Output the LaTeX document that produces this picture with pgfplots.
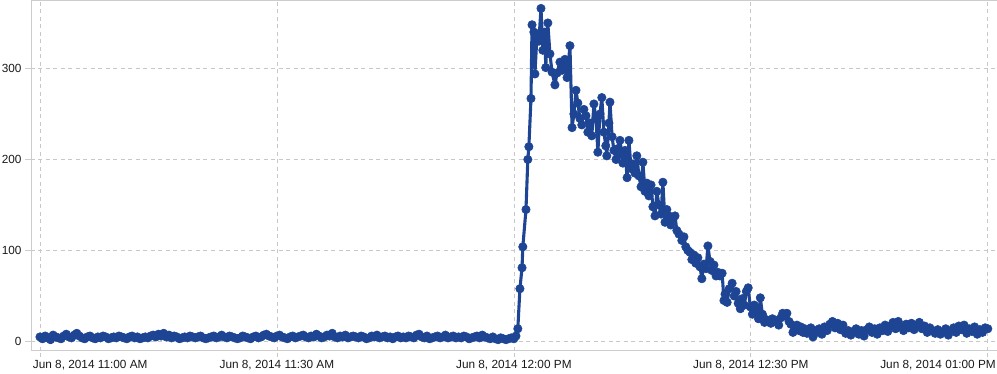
\documentclass[border=0pt]{standalone}
\usepackage{fontspec}
\setmainfont{Liberation Sans}
\usepackage{pgfplots}
\pgfplotsset{compat=1.18}
\definecolor{chartblue}{RGB}{29,69,148}
\definecolor{gridgray}{RGB}{200,200,200}
\definecolor{axisgray}{RGB}{205,205,205}
\begin{document}
\begin{tikzpicture}
\begin{axis}[
  scale only axis, width=966pt, height=350pt,
  xmin=-3.4, xmax=363.5, ymin=-9.9, ymax=374.7,
  axis x line*=bottom, axis y line*=left,
  axis line style={-, axisgray, line width=0.9pt},
  xtick={0,90,180,270,360},
  xticklabels={{\makebox[0pt][l]{\hspace*{-7pt}Jun 8, 2014 11:00 AM}},{Jun 8, 2014 11:30 AM},{Jun 8, 2014 12:00 PM},{Jun 8, 2014 12:30 PM},{\makebox[0pt][r]{Jun 8, 2014 01:00 PM\hspace*{-8pt}}}},
  ytick={0,100,200,300},
  grid=major,
  major grid style={gridgray, dash pattern=on 4pt off 3.5pt, line width=0.7pt},
  tick align=outside,
  x tick style={gridgray, dash pattern=on 4pt off 3.5pt, line width=0.7pt},
  y tick style={axisgray, line width=0.8pt},
  major tick length=6pt,
  tick label style={font=\fontsize{11.8}{14}\selectfont, text=black!90},
  /pgf/number format/assume math mode=true,
]
\coordinate (SW) at (rel axis cs:0,0);
\coordinate (NE) at (rel axis cs:1,1);
\draw[axisgray, line width=0.9pt] (rel axis cs:0,1) -- (rel axis cs:1,1);
\addplot[color=chartblue, line width=3.1pt, line join=round, line cap=round, mark=*, mark size=4.2pt, mark options={solid, fill=chartblue, draw=chartblue, line width=0.6pt}] coordinates {
(0,5)(1,3)(2,6)(3,4)(4,2)(5,7)(6,5)(7,4)(8,3)(9,6)(10,8)(11,5)(12,4)(13,7)(14,9)(15,6)(16,4)(17,3)(18,5)(19,6)
(20,4)(21,3)(22,5)(23,4)(24,6)(25,5)(26,3)(27,4)(28,5)(29,4)(30,6)(31,5)(32,4)(33,3)(34,5)(35,6)(36,4)(37,5)(38,3)(39,4)
(40,5)(41,4)(42,6)(43,7)(44,5)(45,8)(46,6)(47,9)(48,5)(49,7)(50,4)(51,6)(52,5)(53,3)(54,4)(55,5)(56,4)(57,6)(58,5)(59,4)
(60,5)(61,6)(62,4)(63,3)(64,4)(65,5)(66,6)(67,4)(68,5)(69,7)(70,5)(71,4)(72,6)(73,5)(74,4)(75,3)(76,4)(77,6)(78,5)(79,4)
(80,3)(81,5)(82,6)(83,4)(84,5)(85,7)(86,8)(87,6)(88,5)(89,4)(90,6)(91,7)(92,5)(93,4)(94,3)(95,5)(96,6)(97,4)(98,5)(99,6)
(100,7)(101,5)(102,4)(103,6)(104,5)(105,8)(106,6)(107,4)(108,5)(109,7)(110,6)(111,9)(112,5)(113,4)(114,6)(115,5)(116,7)(117,4)(118,5)(119,6)
(120,5)(121,4)(122,6)(123,5)(124,3)(125,4)(126,6)(127,5)(128,7)(129,4)(130,5)(131,6)(132,4)(133,5)(134,3)(135,5)(136,6)(137,4)(138,5)(139,4)
(140,6)(141,5)(142,4)(143,7)(144,8)(145,5)(146,4)(147,6)(148,3)(149,4)(150,5)(151,6)(152,4)(153,5)(154,7)(155,4)(156,5)(157,6)(158,4)(159,5)
(160,4)(161,6)(162,5)(163,3)(164,4)(165,5)(166,6)(167,4)(168,7)(169,5)(170,4)(171,3)(172,5)(173,3)(174,2)(175,4)(176,3)(177,2)(178,3)(179,4)
(180,3)(180.8,6)(181.5,14)(182.3,58)(183.1,81)(183.4,104)(184.6,145)(185.3,200)(185.7,214)(186.5,267)(186.9,348)(187.6,340)(188.0,294)(188.8,338)(189.5,330)(190.3,366)(191.0,320)(191.8,340)(192.1,301)(192.9,350)(193.7,316)(194.5,296)(195.6,282)(196.4,295)(197.5,307)(198.3,298)(199.4,310)(200.2,290)(201.3,325)(202.1,235)
(202.8,250)(203.6,276)(204.3,262)(205.1,245)(205.8,238)(206.6,255)(207.4,248)(208.1,230)(208.9,240)(209.6,226)(210.4,261)(211.2,245)(211.9,208)(212.7,250)(213.4,268)(214.2,230)(214.9,215)(215.3,204)(216.1,240)(216.5,263)(217.3,225)(218.0,210)(218.8,200)(219.5,212)(220.3,221)(221.1,205)(221.4,196)(222.2,210)(223.0,180)(223.7,221)
(224.5,190)(225.2,195)(226.0,185)(226.7,204)(227.5,182)(228.3,170)(229.0,197)(229.8,165)(230.5,174)(231.3,160)(232.1,172)(232.8,148)(233.6,138)(234.3,165)(235.1,150)(235.9,140)(236.6,175)(237.4,131)(238.1,145)(238.9,138)(239.6,128)(240.4,135)(241.2,138)(241.9,122)(242.7,118)(243.8,111)(244.6,115)(245.3,104)(246.1,100)(246.9,98)
(247.6,90)(248.4,95)(249.1,86)(249.9,92)(250.7,82)(251.4,69)(252.2,85)(253.0,80)(253.7,105)(254.5,88)(255.2,78)(256.0,84)(256.8,72)(257.5,76)(258.3,72)(259.1,75)(259.8,45)(260.2,52)(261.0,43)(261.8,58)(262.9,64)(263.7,50)(264.4,55)(265.2,42)(266.0,36)(266.7,47)(267.5,40)(268.3,55)(269.0,59)(269.8,38)
(270.6,30)(271.3,40)(272.1,35)(272.9,25)(273.6,48)(274.4,30)(275.2,21)(275.9,24)(276.7,22)(277.6,20)(278.2,25)(279.0,22)(279.9,23)(280.6,18)(281.4,26)(282.1,31)(282.9,28)(283.7,31)(284.5,22)(285.2,19)(286.0,10)(286.8,14)(287.5,18)(288.3,12)(289.0,16)(289.8,10)(290.5,14)(291.3,9)(292.1,12)(292.8,15)(293.6,5)(294.3,12)
(295,10)(296,14)(297,8)(298,16)(299,12)(300,19)(301,22)(302,15)(303,20)(304,13)(305,18)(306,9)(307,12)(308,7)(309,11)(310,14)(311,8)(312,12)(313,6)(314,13)(315,16)(316,10)(317,14)(318,8)(319,15)(320,12)(321,18)(322,11)(323,17)(324,21)
(325,14)(326,22)(327,16)(328,12)(329,19)(330,15)(331,20)(332,13)(333,18)(334,21)(335,14)(336,17)(337,10)(338,15)(339,12)(340,9)(341,13)(342,8)(343,11)(344,14)(345,7)(346,12)(347,15)(348,10)(349,17)(350,13)(351,18)(352,9)(353,14)(354,11)(355,16)(356,8)(357,13)(358,10)(359,15)(360,14)
};
\end{axis}
\pgfresetboundingbox
\path[use as bounding box] ([xshift=-31pt,yshift=-23pt]SW) rectangle ([yshift=0.5pt]NE);
\end{tikzpicture}
\end{document}
